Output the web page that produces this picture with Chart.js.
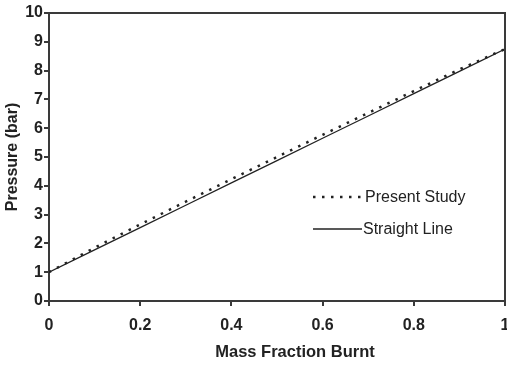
<!DOCTYPE html>
<html>
<head>
<meta charset="utf-8">
<script src="https://cdn.jsdelivr.net/npm/chart.js@4"></script>
<style>
  html, body { margin: 0; padding: 0; background: #fff; }
  #wrap { width: 507px; height: 365px; }
</style>
</head>
<body>
<div id="wrap"><canvas id="chart" width="507" height="365"></canvas></div>
<script>
// values
const massFraction = [0, 0.1, 0.2, 0.3, 0.4, 0.5, 0.6, 0.7, 0.8, 0.9, 1.0];
const presentStudy = [1.0, 1.85, 2.66, 3.45, 4.23, 5.00, 5.77, 6.53, 7.29, 8.04, 8.75];
const straightLine = [1.0, 1.775, 2.55, 3.325, 4.10, 4.875, 5.65, 6.425, 7.20, 7.975, 8.75];
const xTicks = [0, 0.2, 0.4, 0.6, 0.8, 1];
const yTicks = [0, 1, 2, 3, 4, 5, 6, 7, 8, 9, 10];

const INK = '#222';
const AXIS = '#3a3a3a';
const FONT = 'Liberation Sans, Arial, sans-serif';

const toXY = ys => massFraction.map((x, i) => ({ x, y: ys[i] }));

// box round the plot, legend inside the plot, x title (sits a bit right of centre in the original)
const frameAndLegend = {
  id: 'frameAndLegend',
  afterDraw(chart) {
    const { ctx, chartArea: a } = chart;
    ctx.save();
    ctx.strokeStyle = AXIS;
    ctx.lineWidth = 2;
    ctx.beginPath();
    ctx.moveTo(a.left, a.top);
    ctx.lineTo(a.right, a.top);
    ctx.lineTo(a.right, a.bottom);
    ctx.stroke();

    const items = [
      { label: 'Present Study', dash: [2.5, 6.5], width: 2.5, y: 197, x1: 313, x2: 364 },
      { label: 'Straight Line', dash: [], width: 1.3, y: 229, x1: 313, x2: 362 },
    ];
    ctx.font = `16px ${FONT}`;
    ctx.fillStyle = INK;
    ctx.textBaseline = 'middle';
    items.forEach(it => {
      ctx.strokeStyle = INK;
      ctx.lineWidth = it.width;
      ctx.setLineDash(it.dash);
      ctx.beginPath();
      ctx.moveTo(it.x1, it.y);
      ctx.lineTo(it.x2, it.y);
      ctx.stroke();
      ctx.setLineDash([]);
      ctx.fillText(it.label, it.x2 + 1, it.y + 1);
    });

    ctx.font = `bold 16.5px ${FONT}`;
    ctx.textAlign = 'center';
    ctx.fillText('Mass Fraction Burnt', 295, 352);
    ctx.restore();
  }
};

new Chart(document.getElementById('chart'), {
  type: 'line',
  data: {
    datasets: [
      {
        label: 'Present Study',
        data: toXY(presentStudy),
        borderColor: INK,
        borderWidth: 2.5,
        borderDash: [2.5, 6.5],
        pointRadius: 0,
        tension: 0,
      },
      {
        label: 'Straight Line',
        data: toXY(straightLine),
        borderColor: INK,
        borderWidth: 1.3,
        pointRadius: 0,
        tension: 0,
      },
    ],
  },
  options: {
    responsive: false,
    animation: false,
    layout: { padding: { left: 0, top: 13, right: 2, bottom: 0 } },
    plugins: { legend: { display: false }, tooltip: { enabled: false } },
    scales: {
      x: {
        type: 'linear',
        min: 0,
        max: 1,
        afterBuildTicks: s => { s.ticks = xTicks.map(v => ({ value: v })); },
        afterFit: s => { s.height = 64; s.paddingLeft = 0; s.paddingRight = 0; },
        ticks: {
          color: INK,
          font: { family: FONT, size: 16, weight: 'bold' },
          padding: 10,
          maxRotation: 0,
          callback: v => String(v),
        },
        grid: { drawOnChartArea: false, drawTicks: true, tickLength: 5, color: AXIS, lineWidth: 2 },
        border: { display: true, color: AXIS, width: 2 },
        title: { display: false },
      },
      y: {
        type: 'linear',
        min: 0,
        max: 10,
        afterBuildTicks: s => { s.ticks = yTicks.map(v => ({ value: v })); },
        afterFit: s => { s.width = 49; s.paddingTop = 0; s.paddingBottom = 0; },
        ticks: {
          color: INK,
          font: { family: FONT, size: 16, weight: 'bold' },
          padding: 1,
        },
        grid: { drawOnChartArea: false, drawTicks: true, tickLength: 5, color: AXIS, lineWidth: 2 },
        border: { display: true, color: AXIS, width: 2 },
        title: {
          display: true,
          text: 'Pressure (bar)',
          color: INK,
          font: { family: FONT, size: 16, weight: 'bold' },
          padding: { top: 3, bottom: 0 },
        },
      },
    },
  },
  plugins: [frameAndLegend],
});
</script>
</body>
</html>
